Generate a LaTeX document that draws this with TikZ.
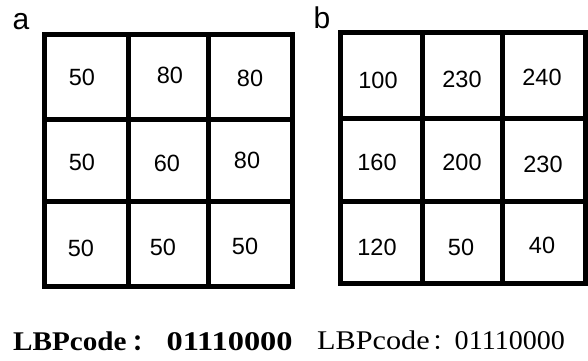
\documentclass[tikz,border=0pt]{standalone}
\usepackage{fontspec}
\usepackage{graphicx}
\setmainfont{Liberation Serif}
\newfontfamily\numfont{Liberation Sans}
\newfontfamily\cjkfont{Noto Sans CJK SC}
\begin{document}
\begin{tikzpicture}[x=1pt,y=-1pt,
  gridline/.style={line width=5pt,line cap=rect},
  num/.style={inner sep=0pt,font=\numfont\fontsize{23.5}{23.5}\selectfont},
  panel/.style={inner sep=0pt,anchor=base,font=\numfont\fontsize{30}{30}\selectfont},
  codeA/.style={inner sep=0pt,anchor=base west,font=\bfseries\fontsize{27}{27}\selectfont},
  codeB/.style={inner sep=0pt,anchor=base west,font=\fontsize{27}{27}\selectfont}]
\useasboundingbox (0,0) rectangle (588,360);
% panel labels
\node[panel] (la) at (21,29) {a};
\node[panel] (lb) at (322,28) {b};
% grid a
\draw[gridline] (44.5,34.5) rectangle (292,286);
\draw[gridline] (128,34.5) -- (128,286);
\draw[gridline] (208.5,34.5) -- (208.5,286);
\draw[gridline] (44.5,119.5) -- (292,119.5);
\draw[gridline] (44.5,201.5) -- (292,201.5);
\node[num] (a11) at (82,77) {50};
\node[num] (a12) at (170,75) {80};
\node[num] (a13) at (250,78) {80};
\node[num] (a21) at (82,162) {50};
\node[num] (a22) at (167,163) {60};
\node[num] (a23) at (247,160) {80};
\node[num] (a31) at (81,248) {50};
\node[num] (a32) at (163,247) {50};
\node[num] (a33) at (245,246) {50};
% grid b
\draw[gridline] (340,32) rectangle (585,283);
\draw[gridline] (422,32) -- (422,283);
\draw[gridline] (502,32) -- (502,283);
\draw[gridline] (340,118) -- (585,118);
\draw[gridline] (340,201) -- (585,201);
\node[num] (b11) at (378,80) {100};
\node[num] (b12) at (462,79) {230};
\node[num] (b13) at (542,77) {240};
\node[num] (b21) at (377,162) {160};
\node[num] (b22) at (462,162) {200};
\node[num] (b23) at (543,164) {230};
\node[num] (b31) at (377,247) {120};
\node[num] (b32) at (461,247) {50};
\node[num] (b33) at (542,245) {40};
% codes
\node[codeA] (ca) at (13,350) {\scalebox{1.08}[1]{LBPcode}\hspace{6pt}{\cjkfont\bfseries\fontsize{22}{22}\selectfont ：}\hspace{12pt}\scalebox{1.2}[1]{01110000}};
\node[codeB] (cb) at (317,349.3) {\scalebox{1.12}[1]{LBPcode}\hspace{3pt}{\cjkfont\fontsize{22}{22}\selectfont ：}\scalebox{1.04}[1]{01110000}};
\end{tikzpicture}
\end{document}
